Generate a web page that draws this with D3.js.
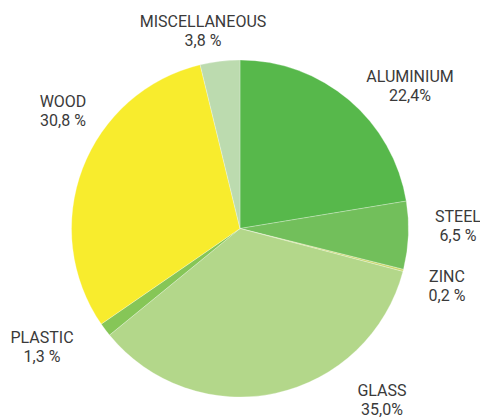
<!DOCTYPE html>
<html>
<head>
<meta charset="utf-8">
<script src="https://cdn.jsdelivr.net/npm/d3@7"></script>
<style>
  body { margin: 0; background: #fff; }
  svg text { font-family: Roboto, "DejaVu Sans", sans-serif; font-size: 16px; fill: #3a3a3a; }
</style>
</head>
<body>
<div id="chart"></div>
<script>
// materials, clockwise from 12 o'clock
var categories = ["ALUMINIUM", "STEEL", "ZINC", "GLASS", "PLASTIC", "WOOD", "MISCELLANEOUS"];
var values = [22.4, 6.5, 0.2, 35.0, 1.3, 30.8, 3.8];
var valueLabels = ["22,4%", "6,5 %", "0,2 %", "35,0%", "1,3 %", "30,8 %", "3,8 %"];

var colors = ["#57b84b", "#72bf5b", "#c9d868", "#b3d78a", "#86c657", "#f8ec2d", "#bcdbaf"];
// label anchor (text centre, baseline of first line)
var labelAt = [[410, 82], [458, 222], [447, 282], [382, 395.5], [42, 343], [63, 107], [203, 27]];

var svgWidth = 480, svgHeight = 418;
var cx = 240, cy = 228.5, radius = 168.5;

var svg = d3.select("#chart").append("svg")
  .attr("width", svgWidth)
  .attr("height", svgHeight);

var data = categories.map(function(c, i) { return {name: c, value: values[i], label: valueLabels[i], i: i}; });

var pie = d3.pie().sort(null).value(d => d.value);
var arc = d3.arc().innerRadius(0).outerRadius(radius);

var g = svg.append("g").attr("transform", "translate(" + cx + "," + cy + ")");

g.selectAll("path")
  .data(pie(data))
  .enter().append("path")
    .attr("d", arc)
    .attr("fill", d => colors[d.data.i])
    .attr("stroke", "rgba(255,255,255,0.45)")
    .attr("stroke-width", 0.6);

var labels = svg.selectAll(".lbl")
  .data(data)
  .enter().append("text")
    .attr("class", "lbl")
    .attr("text-anchor", "middle")
    .attr("x", d => labelAt[d.i][0])
    .attr("y", d => labelAt[d.i][1]);

labels.append("tspan")
  .attr("x", d => labelAt[d.i][0])
  .text(d => d.name);
labels.append("tspan")
  .attr("x", d => labelAt[d.i][0])
  .attr("dy", 19)
  .text(d => d.label);
</script>
</body>
</html>
